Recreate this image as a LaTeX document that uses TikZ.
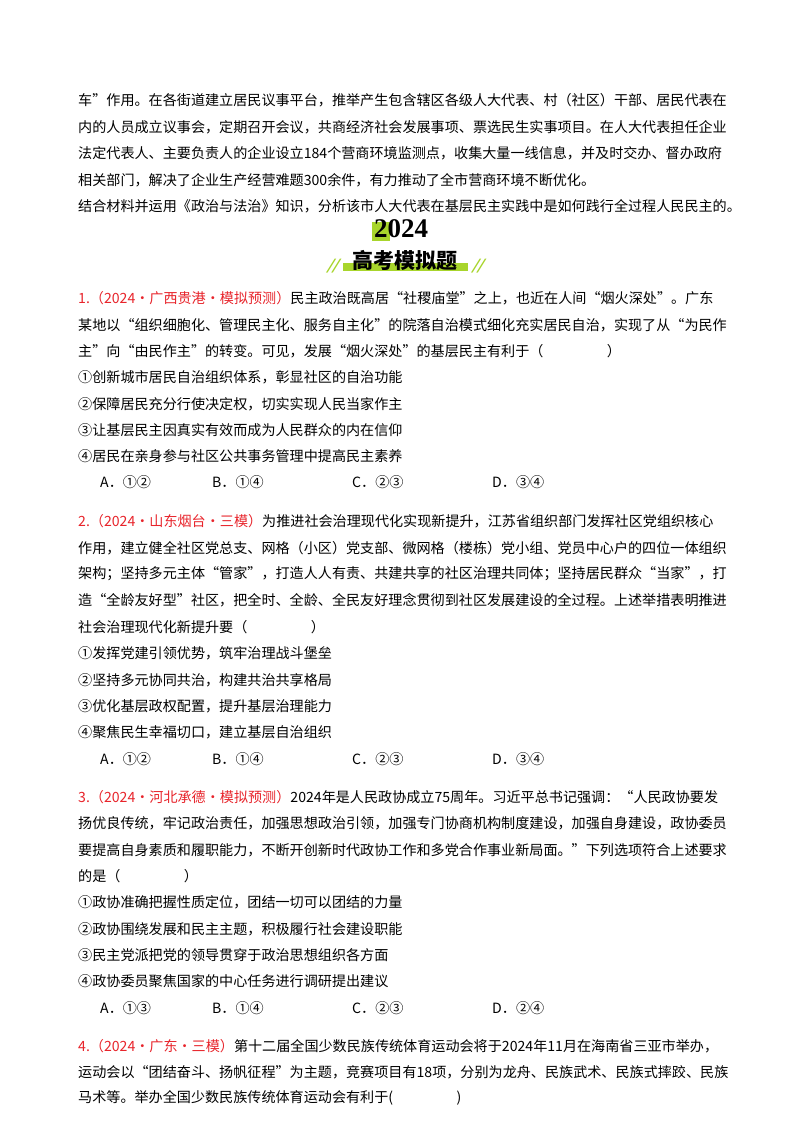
\documentclass[tikz,border=0pt]{standalone}
\usepackage{fontspec}
\setmainfont{Noto Sans CJK SC}
\newfontfamily\serifbold{Liberation Serif}
\definecolor{lime}{HTML}{A8D52C}
\definecolor{qred}{HTML}{E8242B}
\begin{document}
\begin{tikzpicture}[x=1pt,y=-1pt,
  ln/.style={anchor=west,inner sep=0pt,font=\fontsize{14.1}{16}\selectfont}]
\useasboundingbox (0,0) rectangle (800,1132);
\fill[white] (0,0) rectangle (800,1132);
\newcommand\Ln[3]{\node[ln] (#1) at (78,#2) {#3};}
\newcommand\Src[1]{\textcolor{qred}{#1}}
\Ln{m1}{100}{车”作用。在各街道建立居民议事平台，推举产生包含辖区各级人大代表、村（社区）干部、居民代表在}
\Ln{m2}{127}{内的人员成立议事会，定期召开会议，共商经济社会发展事项、票选民生实事项目。在人大代表担任企业}
\Ln{m3}{153}{法定代表人、主要负责人的企业设立184个营商环境监测点，收集大量一线信息，并及时交办、督办政府}
\Ln{m4}{180}{相关部门，解决了企业生产经营难题300余件，有力推动了全市营商环境不断优化。}
\Ln{m5}{206}{结合材料并运用《政治与法治》知识，分析该市人大代表在基层民主实践中是如何践行全过程人民民主的。}
% header
\fill[lime] (372,222) rectangle (390,241);
\node[inner sep=0pt,font=\serifbold\bfseries\fontsize{27}{28}\selectfont] (yr) at (401,229) {2024};
\fill[lime] (343,263) rectangle (468,271);
\node[inner sep=0pt,font=\bfseries\fontsize{21}{22}\selectfont] (ttl) at (405,260) {高考模拟题};
\node[inner sep=0pt,text=lime,font=\bfseries\fontsize{14}{14}\selectfont,xslant=0.4] (s1) at (334,266) {//};
\node[inner sep=0pt,text=lime,font=\bfseries\fontsize{14}{14}\selectfont,xslant=0.4] (s2) at (479,266) {//};
% Q1
\Ln{a1}{298}{\Src{1.（2024·广西贵港·模拟预测）}民主政治既高居“社稷庙堂”之上，也近在人间“烟火深处”。广东}
\Ln{a2}{325}{某地以“组织细胞化、管理民主化、服务自主化”的院落自治模式细化充实居民自治，实现了从“为民作}
\Ln{a3}{351}{主”向“由民作主”的转变。可见，发展“烟火深处”的基层民主有利于（\hspace{4.5em}）}
\Ln{a4}{377}{①创新城市居民自治组织体系，彰显社区的自治功能}
\Ln{a5}{404}{②保障居民充分行使决定权，切实实现人民当家作主}
\Ln{a6}{430}{③让基层民主因真实有效而成为人民群众的内在信仰}
\Ln{a7}{456}{④居民在亲身参与社区公共事务管理中提高民主素养}
\node[ln] (a8a) at (100,482) {A．①②}; \node[ln] (a8b) at (212,482) {B．①④};
\node[ln] (a8c) at (352,482) {C．②③}; \node[ln] (a8d) at (492,482) {D．③④};
% Q2
\Ln{b1}{521}{\Src{2.（2024·山东烟台·三模）}为推进社会治理现代化实现新提升，江苏省组织部门发挥社区党组织核心}
\Ln{b2}{548}{作用，建立健全社区党总支、网格（小区）党支部、微网格（楼栋）党小组、党员中心户的四位一体组织}
\Ln{b3}{574}{架构；坚持多元主体“管家”，打造人人有责、共建共享的社区治理共同体；坚持居民群众“当家”，打}
\Ln{b4}{600}{造“全龄友好型”社区，把全时、全龄、全民友好理念贯彻到社区发展建设的全过程。上述举措表明推进}
\Ln{b5}{627}{社会治理现代化新提升要（\hspace{4.5em}）}
\Ln{b6}{653}{①发挥党建引领优势，筑牢治理战斗堡垒}
\Ln{b7}{680}{②坚持多元协同共治，构建共治共享格局}
\Ln{b8}{706}{③优化基层政权配置，提升基层治理能力}
\Ln{b9}{732}{④聚焦民生幸福切口，建立基层自治组织}
\node[ln] (b10a) at (100,759) {A．①②}; \node[ln] (b10b) at (212,759) {B．①④};
\node[ln] (b10c) at (352,759) {C．②③}; \node[ln] (b10d) at (492,759) {D．③④};
% Q3
\Ln{c1}{797}{\Src{3.（2024·河北承德·模拟预测）}2024年是人民政协成立75周年。习近平总书记强调：“人民政协要发}
\Ln{c2}{823}{扬优良传统，牢记政治责任，加强思想政治引领，加强专门协商机构制度建设，加强自身建设，政协委员}
\Ln{c3}{850}{要提高自身素质和履职能力，不断开创新时代政协工作和多党合作事业新局面。”下列选项符合上述要求}
\Ln{c4}{876}{的是（\hspace{4.5em}）}
\Ln{c5}{902}{①政协准确把握性质定位，团结一切可以团结的力量}
\Ln{c6}{929}{②政协围绕发展和民主主题，积极履行社会建设职能}
\Ln{c7}{955}{③民主党派把党的领导贯穿于政治思想组织各方面}
\Ln{c8}{981}{④政协委员聚焦国家的中心任务进行调研提出建议}
\node[ln] (c9a) at (100,1008) {A．①③}; \node[ln] (c9b) at (212,1008) {B．①④};
\node[ln] (c9c) at (352,1008) {C．②③}; \node[ln] (c9d) at (492,1008) {D．②④};
% Q4
\Ln{d1}{1046}{\Src{4.（2024·广东·三模）}第十二届全国少数民族传统体育运动会将于2024年11月在海南省三亚市举办，}
\Ln{d2}{1072}{运动会以“团结奋斗、扬帆征程”为主题，竞赛项目有18项，分别为龙舟、民族武术、民族式摔跤、民族}
\Ln{d3}{1098}{马术等。举办全国少数民族传统体育运动会有利于(\hspace{4.5em})}
\end{tikzpicture}
\end{document}
